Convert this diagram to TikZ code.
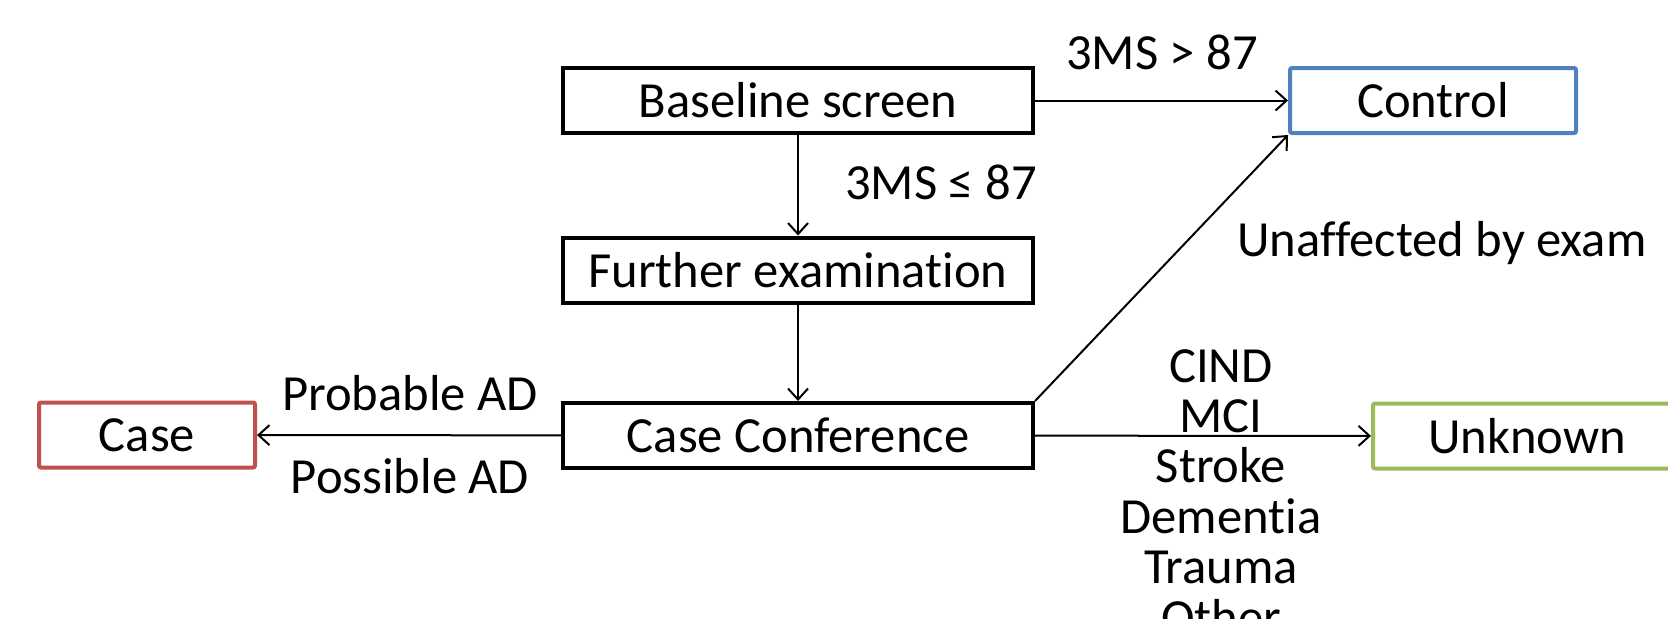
\documentclass[tikz,border=0pt]{standalone}
\usepackage{fontspec}
\setmainfont{Carlito}[Ligatures=NoCommon]
\usetikzlibrary{arrows.meta}
\definecolor{ctrlblue}{HTML}{4F81BD}
\definecolor{casered}{HTML}{C0504D}
\definecolor{unkgreen}{HTML}{9BBB59}
\tikzset{
  box/.style={draw, line width=2pt, minimum height=32.5pt, inner sep=0pt,
    font=\fontsize{25.3}{25}\selectfont},
  stagebox/.style={box, draw=black, minimum width=235pt},
  outbox/.style={box, rounded corners=1pt},
  lbl/.style={anchor=base, inner sep=0pt, font=\fontsize{25.3}{25}\selectfont},
  conn/.style={line width=1pt, -{Straight Barb[length=5.5pt,width=10pt,line width=1pt]}}
}
\begin{document}
\begin{tikzpicture}[x=0.5pt, y=-0.5pt]
\useasboundingbox (0,0) rectangle (1668,618);
% stages of the screening pathway
\node[stagebox] (base) at (798,100.5) {Baseline screen};
\node[stagebox] (further) at (798,270) {Further examination};
\node[stagebox] (conf) at (798,435.5) {Case Conference};
% outcome groups
\node[outbox, draw=ctrlblue, minimum width=143pt] (control) at (1433,100.5) {Control};
\node[outbox, draw=casered, minimum width=108pt] (case) at (147,435) {Case};
\node[outbox, draw=unkgreen, minimum width=154pt] (unknown) at (1527,436) {Unknown};
% connectors
\draw[conn] (base) -- (control);
\draw[conn] (base) -- (further);
\draw[conn] (further) -- (conf);
\draw[conn] (conf.north east) -- (control.south west);
\draw[conn] (conf) -- (case);
\draw[conn] (conf) -- (unknown);
% branch labels
\node[lbl] (gt) at (1162,69) {3MS > 87};
\node[lbl] (le) at (941,199) {3MS ≤ 87};
\node[lbl] (unaff) at (1442,256) {Unaffected by exam};
\node[lbl] (prob) at (410,410) {Probable AD};
\node[lbl] (poss) at (410,493) {Possible AD};
% base of a multi-line node sits on its last line
\node[lbl, align=center, font=\fontsize{25.3}{25.2}\selectfont] (causes) at (1221,634)
  {CIND\\MCI\\Stroke\\Dementia\\Trauma\\Other};
\end{tikzpicture}
\end{document}
